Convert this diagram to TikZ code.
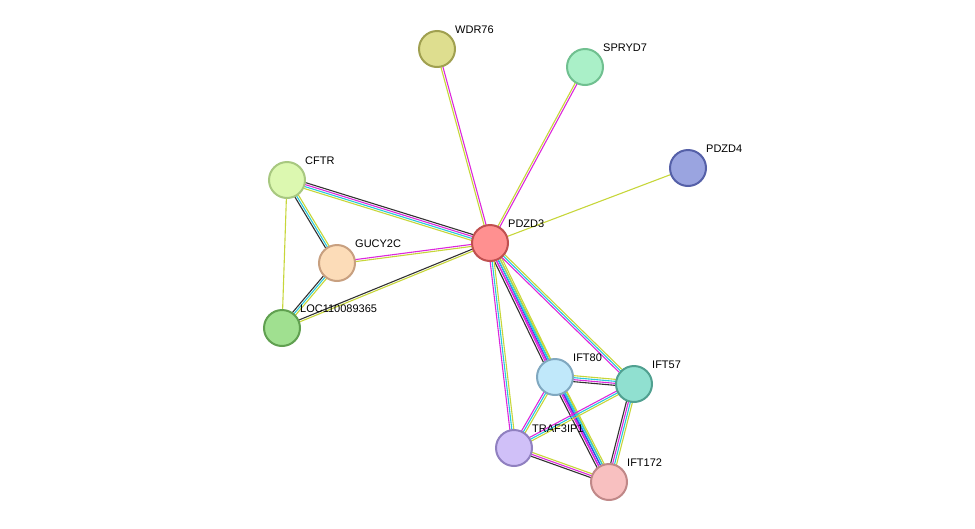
\documentclass[tikz,border=0pt]{standalone}
\usepackage{fontspec}
\setmainfont{Liberation Sans}
\usetikzlibrary{calc}
\definecolor{txm}{RGB}{199,214,58}
\definecolor{exm}{RGB}{220,40,220}
\definecolor{dbs}{RGB}{40,200,220}
\definecolor{coex}{RGB}{50,50,50}
\definecolor{cooc}{RGB}{60,60,230}
\newcommand{\netedge}[3]{%
  \foreach \c/\o in {#3} {
    \draw[\c, line width=1.1pt] ($(#1)!\o pt!90:(#2)$) -- ($(#2)!\o pt!-90:(#1)$);
  }}
\begin{document}
\begin{tikzpicture}[x=1pt, y=-1pt,
    prot/.style={circle, minimum size=36pt, inner sep=0pt, line width=2pt},
    lbl/.style={font=\fontsize{11}{13}\selectfont, anchor=south west, inner sep=1pt}
    ]
    \useasboundingbox (0,0) rectangle (975,528);
    %% Nodes positions
    \coordinate (wdr) at (437,49);
    \coordinate (spr) at (585,67);
    \coordinate (pd4) at (688,168);
    \coordinate (cft) at (287,180);
    \coordinate (pd3) at (490,243);
    \coordinate (guc) at (337,263);
    \coordinate (loc) at (282,328);
    \coordinate (i80) at (555,377);
    \coordinate (i57) at (634,384);
    \coordinate (tra) at (514,448);
    \coordinate (i172) at (609,482);

    %% Edges
    \netedge{pd3}{wdr}{exm/-1,txm/1}
    \netedge{pd3}{spr}{exm/-1,txm/1}
    \netedge{pd3}{pd4}{txm/0}
    \netedge{pd3}{cft}{coex/-3,exm/-1,dbs/1,txm/3}
    \netedge{pd3}{guc}{exm/-1,txm/1}
    \netedge{pd3}{loc}{coex/-1,txm/1}
    \netedge{cft}{guc}{coex/-2,dbs/0,txm/2}
    \netedge{cft}{loc}{txm/0}
    \netedge{guc}{loc}{coex/-2,dbs/0,txm/2}
    \netedge{pd3}{i80}{coex/-4,exm/-2,cooc/0,dbs/2,txm/4}
    \netedge{pd3}{i57}{exm/-2,dbs/0,txm/2}
    \netedge{pd3}{tra}{exm/-2,dbs/0,txm/2}
    \netedge{pd3}{i172}{exm/-2,dbs/0,txm/2}
    \netedge{i80}{i57}{coex/-3,exm/-1,dbs/1,txm/3}
    \netedge{i80}{tra}{exm/-2,dbs/0,txm/2}
    \netedge{i80}{i172}{coex/-4,exm/-2,cooc/0,dbs/2,txm/4}
    \netedge{i57}{tra}{exm/-2,dbs/0,txm/2}
    \netedge{i57}{i172}{coex/-3,exm/-1,dbs/1,txm/3}
    \netedge{tra}{i172}{coex/-2,exm/0,txm/2}

    %% Proteins
    \node[prot, fill={rgb,255:red,222;green,222;blue,143}, draw={rgb,255:red,160;green,160;blue,80}] (WDR76) at (wdr) {};
    \node[prot, fill={rgb,255:red,170;green,240;blue,200}, draw={rgb,255:red,112;green,192;blue,144}] (SPRYD7) at (spr) {};
    \node[prot, fill={rgb,255:red,154;green,164;blue,224}, draw={rgb,255:red,85;green,96;blue,168}] (PDZD4) at (pd4) {};
    \node[prot, fill={rgb,255:red,220;green,248;blue,176}, draw={rgb,255:red,168;green,200;blue,128}] (CFTR) at (cft) {};
    \node[prot, fill={rgb,255:red,255;green,144;blue,144}, draw={rgb,255:red,192;green,80;blue,80}] (PDZD3) at (pd3) {};
    \node[prot, fill={rgb,255:red,252;green,220;blue,184}, draw={rgb,255:red,200;green,160;blue,128}] (GUCY2C) at (guc) {};
    \node[prot, fill={rgb,255:red,160;green,224;blue,144}, draw={rgb,255:red,96;green,160;blue,80}] (LOC) at (loc) {};
    \node[prot, fill={rgb,255:red,192;green,232;blue,250}, draw={rgb,255:red,128;green,168;blue,192}] (IFT80) at (i80) {};
    \node[prot, fill={rgb,255:red,144;green,224;blue,208}, draw={rgb,255:red,80;green,160;blue,144}] (IFT57) at (i57) {};
    \node[prot, fill={rgb,255:red,208;green,192;blue,248}, draw={rgb,255:red,144;green,128;blue,192}] (TRAF) at (tra) {};
    \node[prot, fill={rgb,255:red,248;green,192;blue,192}, draw={rgb,255:red,192;green,136;blue,136}] (IFT172) at (i172) {};

    %% Labels
    \node[lbl] at ($(WDR76)+(17,-14)$) {WDR76};
    \node[lbl] at ($(SPRYD7)+(17,-14)$) {SPRYD7};
    \node[lbl] at ($(PDZD4)+(17,-14)$) {PDZD4};
    \node[lbl] at ($(CFTR)+(17,-14)$) {CFTR};
    \node[lbl] at ($(PDZD3)+(17,-14)$) {PDZD3};
    \node[lbl] at ($(GUCY2C)+(17,-14)$) {GUCY2C};
    \node[lbl] at ($(LOC)+(17,-14)$) {LOC110089365};
    \node[lbl] at ($(IFT80)+(17,-14)$) {IFT80};
    \node[lbl] at ($(IFT57)+(17,-14)$) {IFT57};
    \node[lbl] at ($(TRAF)+(17,-14)$) {TRAF3IP1};
    \node[lbl] at ($(IFT172)+(17,-14)$) {IFT172};
\end{tikzpicture}
\end{document}
